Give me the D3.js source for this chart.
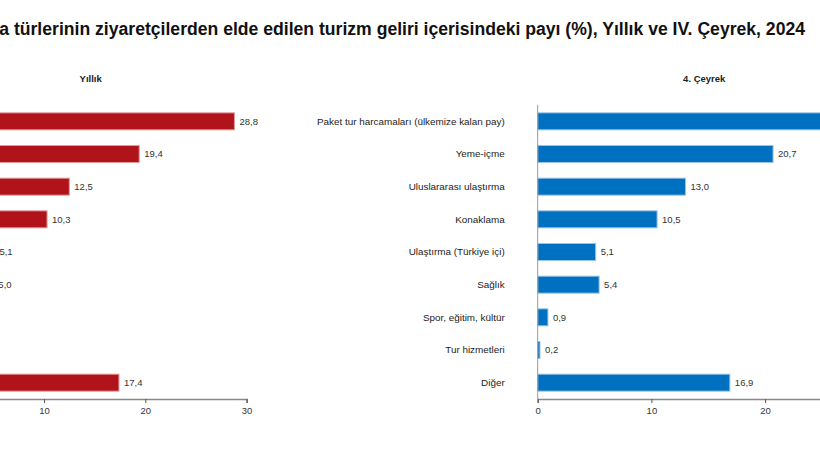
<!DOCTYPE html>
<html>
<head>
<meta charset="utf-8">
<script src="https://cdn.jsdelivr.net/npm/d3@7"></script>
<style>
  html, body { margin: 0; padding: 0; background: #fff; overflow: hidden; }
  svg { display: block; font-family: "Liberation Sans", Arial, sans-serif; }
</style>
</head>
<body>
<svg width="820" height="462"></svg>
<script>
// Harcama türleri
const categories = [
    "Paket tur harcamaları (ülkemize kalan pay)",
    "Yeme-içme",
    "Uluslararası ulaştırma ",
    "Konaklama",
    "Ulaştırma (Türkiye içi)",
    "Sağlık",
    "Spor, eğitim, kültür",
    "Tur hizmetleri ",
    "Diğer"
];
const yearlyValues = [28.8, 19.4, 12.5, 10.3, 5.1, 5.0, 1.2, 0.3, 17.4];
const quarterValues = [27.3, 20.7, 13.0, 10.5, 5.1, 5.4, 0.9, 0.2, 16.9];
const ticks = [0, 10, 20, 30];
const titleText = "Harcama türlerinin ziyaretçilerden elde edilen turizm geliri içerisindeki payı (%), Yıllık ve IV. Çeyrek, 2024";

const svg = d3.select('svg');
const fmt = v => d3.format('.1f')(v).replace('.', ',');

// title (the chart is wider than the window, its left part is cut)
svg.append('text')
    .attr('x', 805).attr('y', 35)
    .attr('text-anchor', 'end')
    .style('font-size', '17.6px').style('font-weight', 'bold').style('fill', '#111')
    .text(titleText);

const yScale = d3.scaleBand()
    .domain(categories)
    .range([105, 399])
    .paddingInner(0.48)
    .paddingOuter(0.24);

const panels = [
    { title: 'Yıllık', values: yearlyValues, color: '#b0141a', stroke: '#e49a9a', x0: -57.3, unit: 10.13 },
    { title: '4. Çeyrek', values: quarterValues, color: '#0070c0', stroke: '#9cc4e8', x0: 537.7, unit: 11.37 }
];

const render = (p) => {
    const xScale = d3.scaleLinear().domain([0, 30]).range([p.x0, p.x0 + 30 * p.unit]);
    const g = svg.append('g');
    const data = categories.map((c, i) => ({ cat: c, val: p.values[i] }));

    // panel title
    g.append('text')
        .attr('x', (xScale(0) + xScale(30)) / 2 - 4).attr('y', 82)
        .attr('text-anchor', 'middle')
        .style('font-size', '9.5px').style('font-weight', 'bold').style('fill', '#222')
        .text(p.title);

    // bars
    g.selectAll('.bar').data(data).enter().append('rect')
        .attr('class', 'bar')
        .attr('x', xScale(0))
        .attr('y', d => yScale(d.cat))
        .attr('width', d => xScale(d.val) - xScale(0))
        .attr('height', yScale.bandwidth())
        .style('fill', p.color)
        .style('stroke', p.stroke)
        .style('stroke-width', 1);

    // value labels
    g.selectAll('.val').data(data).enter().append('text')
        .attr('class', 'val')
        .attr('x', d => xScale(d.val) + 5)
        .attr('y', d => yScale(d.cat) + yScale.bandwidth() / 2)
        .attr('dy', '0.35em')
        .style('font-size', '9.5px').style('fill', '#333')
        .text(d => fmt(d.val));

    // category labels
    g.selectAll('.cat').data(data).enter().append('text')
        .attr('class', 'cat')
        .attr('x', xScale(0) - 33)
        .attr('y', d => yScale(d.cat) + yScale.bandwidth() / 2)
        .attr('dy', '0.35em')
        .attr('text-anchor', 'end')
        .style('font-size', '9.9px').style('fill', '#222')
        .text(d => d.cat);

    // vertical axis line
    g.append('line')
        .attr('x1', xScale(0)).attr('x2', xScale(0))
        .attr('y1', 105).attr('y2', 399)
        .style('stroke', '#999').style('stroke-width', 1);

    // x axis
    const xAxis = d3.axisBottom(xScale).tickValues(ticks).tickSize(4).tickPadding(4).tickFormat(d3.format('d'));
    const gx = g.append('g').attr('transform', 'translate(0,399)').call(xAxis);
    gx.select('.domain').style('stroke', '#888').style('stroke-width', 1.6);
    gx.selectAll('.tick line').style('stroke', '#555');
    gx.selectAll('.tick text').style('font-size', '9.5px').style('fill', '#333').style('font-family', '"Liberation Sans", Arial, sans-serif');
};

panels.forEach(render);
</script>
</body>
</html>
